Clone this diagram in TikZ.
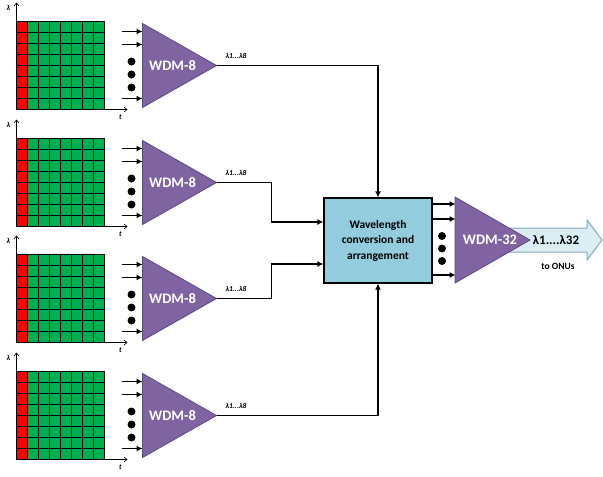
\documentclass[tikz,border=0pt]{standalone}
\usepackage{fontspec}
\setmainfont{Carlito}
\usetikzlibrary{arrows.meta}
\definecolor{wdmpurple}{HTML}{8064A2}
\definecolor{wdmedge}{HTML}{5C4A7A}
\definecolor{convblue}{HTML}{93CDDD}
\definecolor{onufill}{HTML}{DBEEF4}
\definecolor{onuedge}{HTML}{8AA6BA}
\definecolor{slotgreen}{HTML}{00B050}
\definecolor{slotred}{HTML}{FF0000}
\tikzset{slots/.style={line width=1.1pt}}
\tikzset{axis/.style={-{Straight Barb[length=3pt,width=5pt]}, line width=0.6pt}}
\tikzset{feed/.style={-{Latex[length=6pt,width=6pt]}, line width=1.8pt}}
\tikzset{link/.style={-{Latex[length=6pt,width=6pt]}, line width=1.6pt}}
\tikzset{wdm/.style={fill=wdmpurple, draw=wdmedge, line width=0.8pt}}
\tikzset{wdmtext/.style={text=white, font=\fontsize{14.5}{16}\selectfont\bfseries}}
\tikzset{band/.style={font=\fontsize{7.5}{8}\selectfont\bfseries\itshape, inner sep=0pt}}
\tikzset{conv/.style={draw, fill=convblue, line width=1.2pt, minimum width=108pt,
  minimum height=85pt, align=center, font=\fontsize{11.5}{15.5}\selectfont\bfseries}}

\begin{document}
\begin{tikzpicture}[x=1pt,y=-1pt]
\useasboundingbox (0,0) rectangle (603,477);

\begin{scope}[shift={(16.5,21.5)}]
\fill[slotred] (0,0) rectangle (11,88);
\fill[slotgreen] (11,0) rectangle (88,88);
\draw[slots] (0,0) grid[step=11pt] (88,88);
\draw[axis] (0,88) -- (0,-19) node[band, pos=1, xshift=-8pt, yshift=-5pt] (lam1) {λ};
\draw[axis] (0,88) -- (111,88) node[band, pos=1, xshift=-7pt, yshift=-8pt] (t1) {t};
\draw[feed] (105,10) -- (126,10);
\draw[feed] (105,23) -- (126,23);
\draw[feed] (105,77) -- (126,77);
\fill (115,40) circle (4) (115,53) circle (4) (115,66) circle (4);
\draw[wdm] (126,2) -- (200,44) -- (126,86) -- cycle;
\node[wdmtext] (w1) at (156,44) {WDM-8};
\coordinate (w1tip) at (200,44);
\node[band] (b1) at (219.5,34) {λ1...λ8};
\end{scope}

\begin{scope}[shift={(16.5,138.5)}]
\fill[slotred] (0,0) rectangle (11,88);
\fill[slotgreen] (11,0) rectangle (88,88);
\draw[slots] (0,0) grid[step=11pt] (88,88);
\draw[axis] (0,88) -- (0,-19) node[band, pos=1, xshift=-8pt, yshift=-5pt] (lam2) {λ};
\draw[axis] (0,88) -- (111,88) node[band, pos=1, xshift=-7pt, yshift=-8pt] (t2) {t};
\draw[feed] (105,10) -- (126,10);
\draw[feed] (105,23) -- (126,23);
\draw[feed] (105,77) -- (126,77);
\fill (115,40) circle (4) (115,53) circle (4) (115,66) circle (4);
\draw[wdm] (126,2) -- (200,44) -- (126,86) -- cycle;
\node[wdmtext] (w2) at (156,44) {WDM-8};
\coordinate (w2tip) at (200,44);
\node[band] (b2) at (219.5,34) {λ1...λ8};
\end{scope}

\begin{scope}[shift={(16.5,254.5)}]
\fill[slotred] (0,0) rectangle (11,88);
\fill[slotgreen] (11,0) rectangle (88,88);
\draw[slots] (0,0) grid[step=11pt] (88,88);
\draw[axis] (0,88) -- (0,-19) node[band, pos=1, xshift=-8pt, yshift=-5pt] (lam3) {λ};
\draw[axis] (0,88) -- (111,88) node[band, pos=1, xshift=-7pt, yshift=-8pt] (t3) {t};
\draw[feed] (105,10) -- (126,10);
\draw[feed] (105,23) -- (126,23);
\draw[feed] (105,77) -- (126,77);
\fill (115,40) circle (4) (115,53) circle (4) (115,66) circle (4);
\draw[wdm] (126,2) -- (200,44) -- (126,86) -- cycle;
\node[wdmtext] (w3) at (156,44) {WDM-8};
\coordinate (w3tip) at (200,44);
\node[band] (b3) at (219.5,34) {λ1...λ8};
\end{scope}

\begin{scope}[shift={(16.5,371.5)}]
\fill[slotred] (0,0) rectangle (11,88);
\fill[slotgreen] (11,0) rectangle (88,88);
\draw[slots] (0,0) grid[step=11pt] (88,88);
\draw[axis] (0,88) -- (0,-19) node[band, pos=1, xshift=-8pt, yshift=-5pt] (lam4) {λ};
\draw[axis] (0,88) -- (111,88) node[band, pos=1, xshift=-7pt, yshift=-8pt] (t4) {t};
\draw[feed] (105,10) -- (126,10);
\draw[feed] (105,23) -- (126,23);
\draw[feed] (105,77) -- (126,77);
\fill (115,40) circle (4) (115,53) circle (4) (115,66) circle (4);
\draw[wdm] (126,2) -- (200,44) -- (126,86) -- cycle;
\node[wdmtext] (w4) at (156,44) {WDM-8};
\coordinate (w4tip) at (200,44);
\node[band] (b4) at (219.5,34) {λ1...λ8};
\end{scope}

\node[conv] (conv) at (378,240.5) {Wavelength\\conversion and\\arrangement};

\draw[link] (w1tip) -| (conv.north);
\draw[link] (w2tip) -- ++(55,0) |- ([yshift=18.5pt]conv.west);
\draw[link] (w3tip) -- ++(55,0) |- ([yshift=-23.5pt]conv.west);
\draw[link] (w4tip) -| (conv.south);

\draw[feed] ([yshift=36.5pt]conv.east) -- ++(23,0);
\draw[feed] ([yshift=21.5pt]conv.east) -- ++(23,0);
\draw[feed] ([yshift=-34.5pt]conv.east) -- ++(23,0);
\fill (442,236) circle (4) (442,248.5) circle (4) (442,261) circle (4);

\draw[fill=onufill, draw=onuedge, line width=1pt] (505,228) -- (587,228) -- (587,220)
  -- (602,240) -- (587,260) -- (587,252) -- (505,252) -- cycle;
\draw[wdm] (455,197) -- (530,240) -- (455,283) -- cycle;
\node[wdmtext] (w32) at (490,240) {WDM-32};
\node[font=\fontsize{13}{14}\selectfont\bfseries] (all) at (556,240) {λ1....λ32};
\node[font=\fontsize{9.5}{10}\selectfont\bfseries] (onu) at (558,266) {to ONUs};

\end{tikzpicture}
\end{document}
